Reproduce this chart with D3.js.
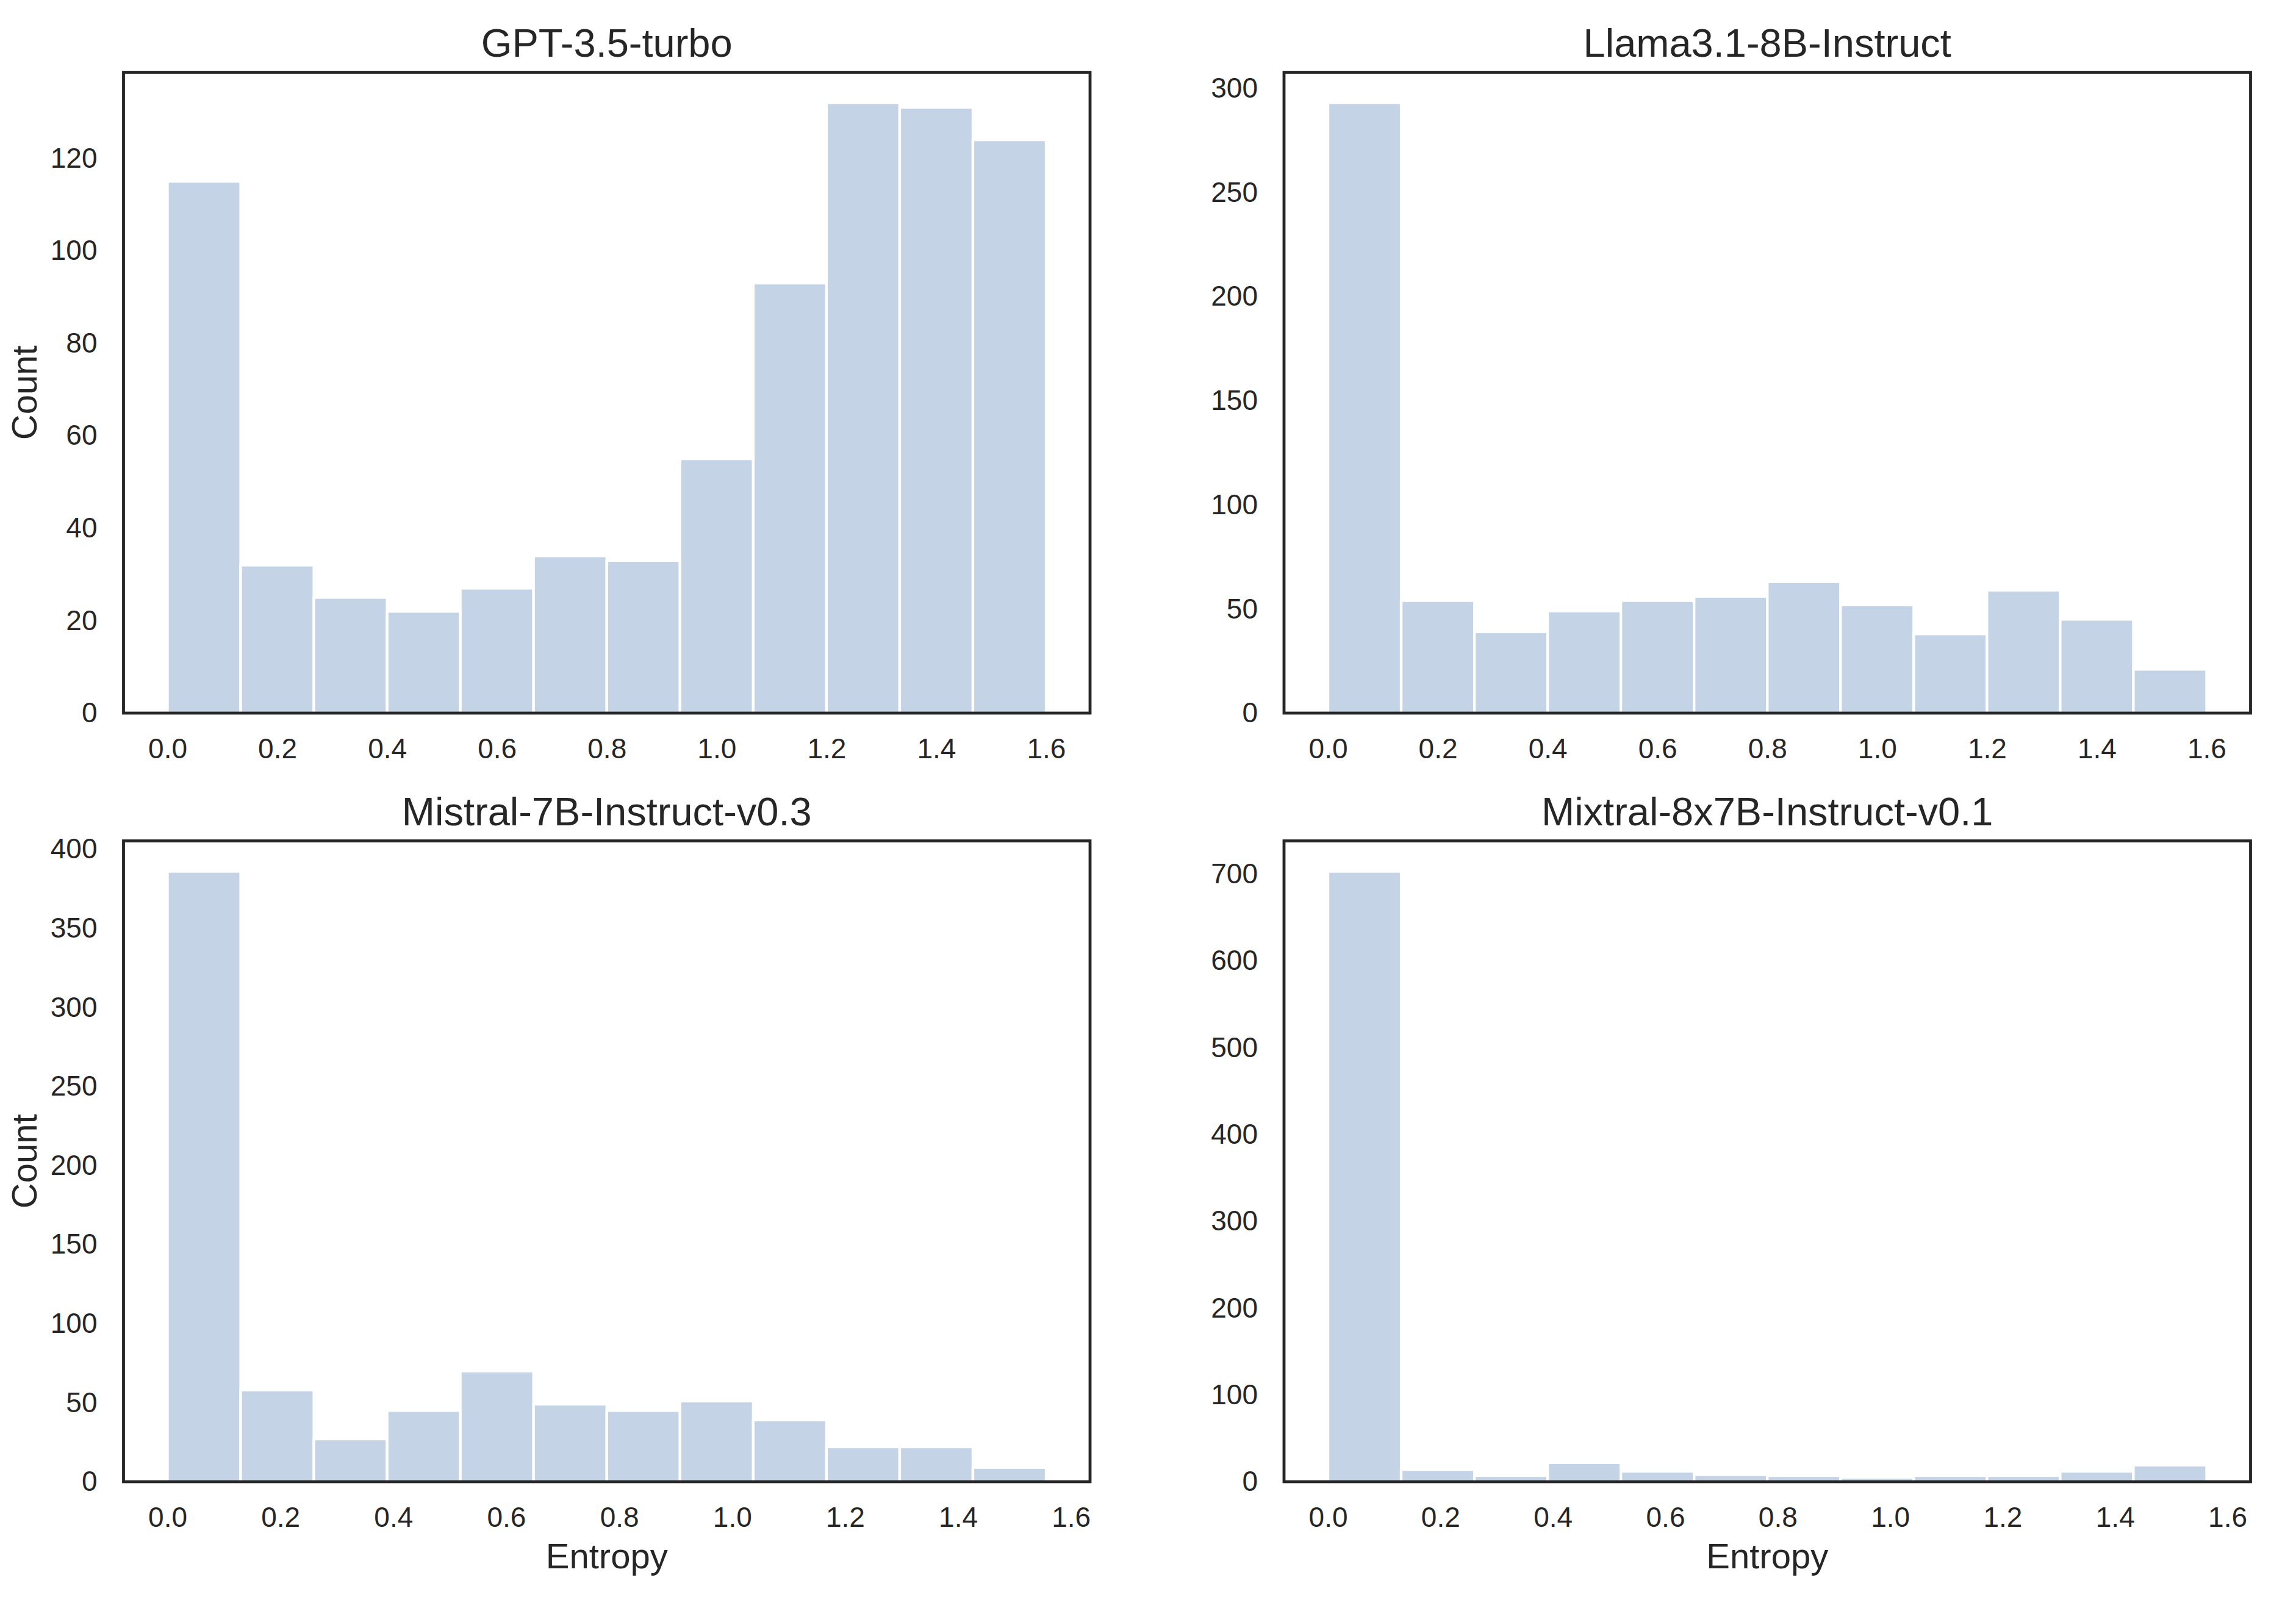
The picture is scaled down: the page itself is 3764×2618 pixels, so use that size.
<!DOCTYPE html>
<html>
<head>
<meta charset="utf-8">
<script src="https://cdn.jsdelivr.net/npm/d3@7"></script>
<style>
  html, body { margin: 0; padding: 0; background: #ffffff; }
  svg { display: block; }
  text { font-family: "Liberation Sans", Arial, Helvetica, sans-serif; fill: #262626; }
</style>
</head>
<body>
<script>
// ---------- data ----------
const titles = ["GPT-3.5-turbo", "Llama3.1-8B-Instruct", "Mistral-7B-Instruct-v0.3", "Mixtral-8x7B-Instruct-v0.1"];
const gptCounts     = [115, 32, 25, 22, 27, 34, 33, 55, 93, 132, 131, 124];
const llamaCounts   = [293, 54, 39, 49, 54, 56, 63, 52, 38, 59, 45, 21];
const mistralCounts = [386, 58, 27, 45, 70, 49, 45, 51, 39, 22, 22, 9];
const mixtralCounts = [703, 14, 7, 22, 12, 8, 7, 5, 7, 7, 12, 19];
const entropyMax    = [1.60, 1.60, 1.556, 1.563];   // upper edge of last bin per panel
const xTickValues   = [0, 0.2, 0.4, 0.6, 0.8, 1.0, 1.2, 1.4, 1.6];
const gptYTicks     = [0, 20, 40, 60, 80, 100, 120];
const llamaYTicks   = [0, 50, 100, 150, 200, 250, 300];
const mistralYTicks = [0, 50, 100, 150, 200, 250, 300, 350, 400];
const mixtralYTicks = [0, 100, 200, 300, 400, 500, 600, 700];
const xLabel = "Entropy";
const yLabel = "Count";

const panelCounts = [gptCounts, llamaCounts, mistralCounts, mixtralCounts];
const panelYTicks = [gptYTicks, llamaYTicks, mistralYTicks, mixtralYTicks];

// ---------- layout ----------
const W = 3764, H = 2618;
const colLeft = [202.5, 2105];
const rowTop = [118.5, 1378.5];
const axW = 1584.5, axH = 1050.5;
const barColor = "#c4d3e5";
const ink = "#262626";

const svg = d3.select("body").append("svg")
  .attr("width", W).attr("height", H)
  .attr("viewBox", `0 0 ${W} ${H}`);
svg.append("rect").attr("width", W).attr("height", H).attr("fill", "#ffffff");

panelCounts.forEach((counts, i) => {
  const col = i % 2, row = Math.floor(i / 2);
  const left = colLeft[col], top = rowTop[row];
  const M = entropyMax[i];
  const nb = counts.length;
  const edges = d3.range(nb + 1).map(k => k * M / nb);
  const ymaxData = d3.max(counts);

  const x = d3.scaleLinear().domain([-0.05 * M, 1.05 * M]).range([0, axW]);
  const y = d3.scaleLinear().domain([0, 1.05 * ymaxData]).range([axH, 0]);

  const g = svg.append("g").attr("transform", `translate(${left},${top})`);

  // bars
  g.append("g").selectAll("rect")
    .data(counts)
    .join("rect")
    .attr("x", (d, k) => x(edges[k]))
    .attr("width", (d, k) => x(edges[k + 1]) - x(edges[k]))
    .attr("y", d => y(d))
    .attr("height", d => y(0) - y(d))
    .attr("fill", barColor)
    .attr("stroke", "#ffffff")
    .attr("stroke-width", 4.3);

  // axes (no tick marks, like seaborn "white" style)
  const xAxis = d3.axisBottom(x).tickValues(xTickValues)
    .tickFormat(d3.format(".1f")).tickSize(0).tickPadding(41);
  const yAxis = d3.axisLeft(y).tickValues(panelYTicks[i])
    .tickFormat(d3.format("d")).tickSize(0).tickPadding(43);

  const gx = g.append("g").attr("transform", `translate(0,${axH})`).call(xAxis);
  const gy = g.append("g").call(yAxis);
  [gx, gy].forEach(a => {
    a.select(".domain").remove();
    a.selectAll("text")
      .style("font-family", '"Liberation Sans", Arial, sans-serif')
      .style("font-size", "46px")
      .attr("fill", ink);
  });

  // frame
  g.append("rect")
    .attr("x", 0).attr("y", 0).attr("width", axW).attr("height", axH)
    .attr("fill", "none").attr("stroke", ink).attr("stroke-width", 4.8);

  // title
  g.append("text")
    .attr("x", axW / 2).attr("y", -25.5)
    .attr("text-anchor", "middle")
    .style("font-size", "65px")
    .text(titles[i]);

  // y label on left column
  if (col === 0) {
    g.append("text")
      .attr("transform", `translate(${60 - left},${axH / 2}) rotate(-90)`)
      .attr("text-anchor", "middle")
      .style("font-size", "58px")
      .text(yLabel);
  }
  // x label on bottom row
  if (row === 1) {
    g.append("text")
      .attr("x", axW / 2).attr("y", axH + 141.5)
      .attr("text-anchor", "middle")
      .style("font-size", "58px")
      .text(xLabel);
  }
});
</script>
</body>
</html>
